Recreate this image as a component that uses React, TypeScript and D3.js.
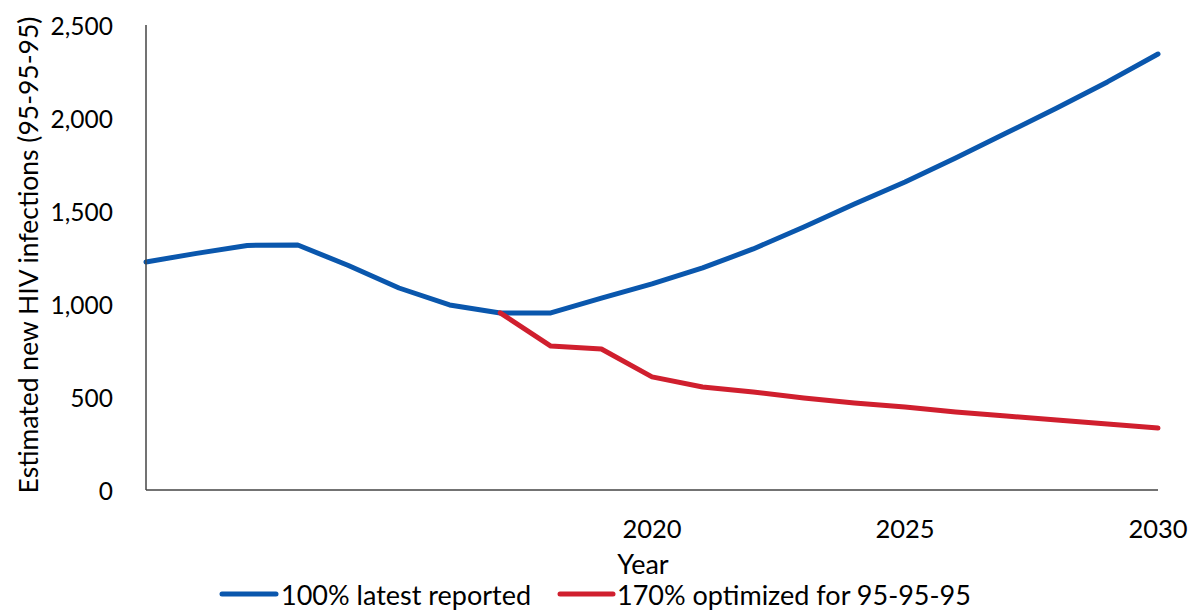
import React from "react";
import * as d3 from "d3";

const years = [2010, 2011, 2012, 2013, 2014, 2015, 2016, 2017, 2018, 2019, 2020, 2021, 2022, 2023, 2024, 2025, 2026, 2027, 2028, 2029, 2030];
const latestReported = [1226, 1272, 1315, 1317, 1207, 1086, 995, 952, 952, 1032, 1108, 1194, 1296, 1414, 1538, 1656, 1785, 1919, 2054, 2194, 2344];
const optimizedYears = [2017, 2018, 2019, 2020, 2021, 2022, 2023, 2024, 2025, 2026, 2027, 2028, 2029, 2030];
const optimized = [952, 774, 758, 608, 554, 527, 495, 468, 446, 419, 398, 376, 355, 333];
const xTicks = [2020, 2025, 2030];
const yTicks = [0, 500, 1000, 1500, 2000, 2500];
const seriesNames = ["100% latest reported", "170% optimized for 95-95-95"];
const colors = ["#0A57AD", "#D01F2E"];

export default function App() {
  const W = 1199, H = 610;
  const left = 146, right = 1158, top = 25, bottom = 490;
  const x = d3.scaleLinear().domain([2010, 2030]).range([left, right]);
  const y = d3.scaleLinear().domain([0, 2500]).range([bottom, top]);
  const line = d3.line<[number, number]>().x(d => x(d[0])).y(d => y(d[1]));
  const blue = line(years.map((yr, i) => [yr, latestReported[i]] as [number, number])) || "";
  const red = line(optimizedYears.map((yr, i) => [yr, optimized[i]] as [number, number])) || "";
  const font = "Lato, 'Open Sans', sans-serif";
  const fmt = d3.format(",");
  return (
    <svg width={W} height={H} style={{ position: "absolute", left: 0, top: 0, background: "#fff" }} fontFamily={font}>
      <rect x={0} y={0} width={W} height={H} fill="#fff" />
      {yTicks.map(t => (
        <text key={t} x={113} y={y(t)} textAnchor="end" dominantBaseline="central" fontSize={24.5} fill="#000">{fmt(t)}</text>
      ))}
      {xTicks.map(t => (
        <text key={t} x={x(t)} y={528} textAnchor="middle" dominantBaseline="central" fontSize={25.5} fill="#000">{t}</text>
      ))}
      <text transform={`translate(28,255) rotate(-90)`} textAnchor="middle" dominantBaseline="central" fontSize={26.5} fill="#000">Estimated new HIV infections (95-95-95)</text>
      <text x={643} y={563} textAnchor="middle" dominantBaseline="central" fontSize={27} fill="#000">Year</text>
      <path d={blue} fill="none" stroke={colors[0]} strokeWidth={5} strokeLinejoin="round" strokeLinecap="round" />
      <path d={red} fill="none" stroke={colors[1]} strokeWidth={5} strokeLinejoin="round" strokeLinecap="round" />
      <line x1={left} x2={left} y1={top} y2={bottom} stroke="#444" strokeWidth={1.5} />
      <line x1={left} x2={right} y1={bottom} y2={bottom} stroke="#444" strokeWidth={1.5} />
      <line x1={222} x2={276} y1={594} y2={594} stroke={colors[0]} strokeWidth={5} strokeLinecap="round" />
      <text x={281} y={594} dominantBaseline="central" fontSize={27} fill="#000">{seriesNames[0]}</text>
      <line x1={560} x2={613} y1={594} y2={594} stroke={colors[1]} strokeWidth={5} strokeLinecap="round" />
      <text x={617} y={594} dominantBaseline="central" fontSize={27} fill="#000">{seriesNames[1]}</text>
    </svg>
  );
}
